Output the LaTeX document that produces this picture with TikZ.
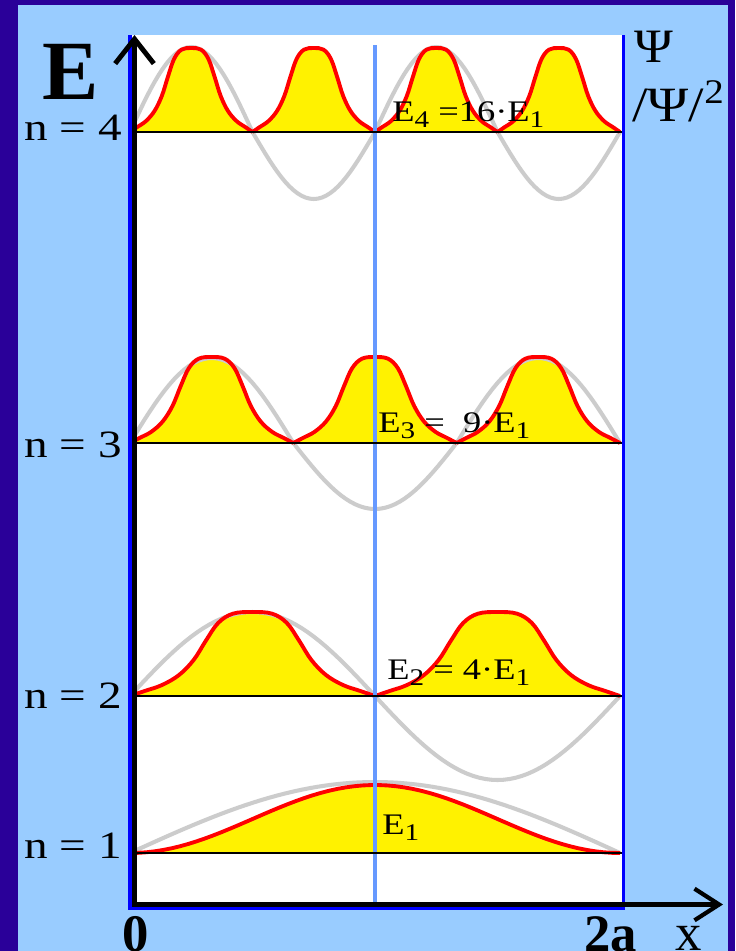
\documentclass[tikz,border=0pt]{standalone}
\usepackage{fontspec}
\setmainfont{Liberation Serif}
\usepackage{graphicx}
\usetikzlibrary{arrows.meta}
\definecolor{frameviolet}{HTML}{2A0099}
\definecolor{paleblue}{HTML}{99CCFF}
\definecolor{midblue}{HTML}{6699FF}
\definecolor{psigray}{HTML}{CCCCCC}

% stretched letters and lowered indices of the labels
\newcommand{\wide}[1]{\scalebox{1.22}[1]{#1}}
\newcommand{\lsub}[1]{\raisebox{-0.45ex}{\scalebox{0.8}{#1}}}
% one hump of |psi|^2: style, start, width, level, height
\newcommand{\hump}[5]{%
  \path[#1] plot[smooth, tension=0.6] coordinates {
    (#2,#4) ({#2+0.06*#3},{#4-0.06*#5}) ({#2+0.13*#3},{#4-0.13*#5})
    ({#2+0.20*#3},{#4-0.25*#5}) ({#2+0.26*#3},{#4-0.43*#5})
    ({#2+0.31*#3},{#4-0.66*#5}) ({#2+0.36*#3},{#4-0.87*#5})
    ({#2+0.42*#3},{#4-0.98*#5}) ({#2+0.5*#3},{#4-#5})
    ({#2+0.58*#3},{#4-0.98*#5}) ({#2+0.64*#3},{#4-0.87*#5})
    ({#2+0.69*#3},{#4-0.66*#5}) ({#2+0.74*#3},{#4-0.43*#5})
    ({#2+0.80*#3},{#4-0.25*#5}) ({#2+0.87*#3},{#4-0.13*#5})
    ({#2+0.94*#3},{#4-0.06*#5}) ({#2+#3},#4)};}

\tikzset{
  psi/.style={psigray, line width=2.3pt},
  humpfill/.style={fill=yellow},
  humpline/.style={draw=red, line width=2.2pt},
  levelline/.style={black, line width=1.6pt},
  nlabel/.style={anchor=base east, inner sep=0pt, font=\fontsize{22}{22}\selectfont},
  elabel/.style={anchor=base west, inner sep=0pt, font=\fontsize{17}{17}\selectfont},
  psitext/.style={anchor=base west, inner sep=0pt, font=\fontsize{26}{26}\selectfont},
  bigbold/.style={anchor=base west, inner sep=0pt, font=\fontsize{30}{30}\selectfont\bfseries},
}

\begin{document}
\begin{tikzpicture}[x=0.02cm, y=-0.02cm]
  \useasboundingbox (0,0) rectangle (735,951);
  \clip (0,0) rectangle (735,951);

  % frame and panel
  \fill[frameviolet] (0,0) rectangle (735,951);
  \fill[paleblue] (18,5) rectangle (728,951);
  \fill[white] (128,35) rectangle (625,909);

  % yellow areas
  \foreach \s in {130,252.5,375,497.5} {\hump{humpfill}{\s}{122.5}{132}{84}}
  \foreach \s in {130,293.33,456.67} {\hump{humpfill}{\s}{163.33}{443}{86}}
  \foreach \s in {130,375} {\hump{humpfill}{\s}{245}{696}{84}}
  \fill[yellow] plot[domain=130:620, samples=60]
    (\x, {853-68*sin((\x-130)/490*180)*sin((\x-130)/490*180)});

  % psi
  \draw[psi] plot[domain=130:620, samples=121]
    (\x, {132-(sin((\x-130)/490*720)>0 ? 85 : 67)*sin((\x-130)/490*720)});
  \draw[psi] plot[domain=130:620, samples=101]
    (\x, {443-(sin((\x-130)/490*540)>0 ? 85 : 66)*sin((\x-130)/490*540)});
  \draw[psi] plot[domain=130:620, samples=81]
    (\x, {696-84*sin((\x-130)/490*360)});
  \draw[psi] plot[domain=130:620, samples=61]
    (\x, {853-71*sin((\x-130)/490*180)});

  % |psi|^2
  \foreach \s in {130,252.5,375,497.5} {\hump{humpline}{\s}{122.5}{132}{84}}
  \foreach \s in {130,293.33,456.67} {\hump{humpline}{\s}{163.33}{443}{86}}
  \foreach \s in {130,375} {\hump{humpline}{\s}{245}{696}{84}}
  \draw[humpline] plot[domain=130:620, samples=60]
    (\x, {853-68*sin((\x-130)/490*180)*sin((\x-130)/490*180)});

  % middle of the well
  \draw[midblue, line width=2pt] (375,45) -- (375,907);

  % levels
  \foreach \y in {132,443,696,853} \draw[levelline] (133,\y) -- (623,\y);

  % walls
  \draw[blue, line width=2.2pt] (130,35) -- (130,908) -- (623.5,908) -- (623.5,35);

  % axes
  \coordinate (origin) at (134.5,904.5);
  \coordinate (etop) at (134.5,35);
  \coordinate (xend) at (723,904.5);
  \draw[line width=2.8pt, line cap=rect, -{Straight Barb[length=14pt,width=22pt]}] (origin) -- (etop);
  \draw[line width=2.4pt, line cap=rect, -{Straight Barb[length=14pt,width=18pt]}] (origin) -- (xend);

  % labels
  \node[anchor=base west, inner sep=0pt, font=\fontsize{48}{48}\selectfont\bfseries] (energy) at (42,99) {E};
  \node[psitext] (psilabel) at (634,62) {\scalebox{1.15}[1.05]{Ψ}};
  \node[psitext] (denslabel) at (632,121) {\scalebox{1.22}[1.08]{/Ψ/\textsuperscript{2}}};
  \node[nlabel] (nfour) at (122,140) {\wide{n = 4}};
  \node[nlabel] (nthree) at (122,457) {\wide{n = 3}};
  \node[nlabel] (ntwo) at (122,708) {\wide{n = 2}};
  \node[nlabel] (none) at (122,858) {\wide{n = 1}};
  \node[elabel] (efour) at (392,121) {\wide{E\lsub{4} =16·E\lsub{1}}};
  \node[elabel] (ethree) at (378,432) {\wide{E\lsub{3} = \ 9·E\lsub{1}}};
  \node[elabel] (etwo) at (387,679) {\wide{E\lsub{2} = 4·E\lsub{1}}};
  \node[elabel] (eone) at (382,834) {\wide{E\lsub{1}}};
  \node[bigbold] (zero) at (122,951) {0};
  \node[bigbold] (width) at (584,951) {2a};
  \node[anchor=base west, inner sep=0pt, font=\fontsize{30}{30}\selectfont] (xlabel) at (675,950) {x};
\end{tikzpicture}
\end{document}
